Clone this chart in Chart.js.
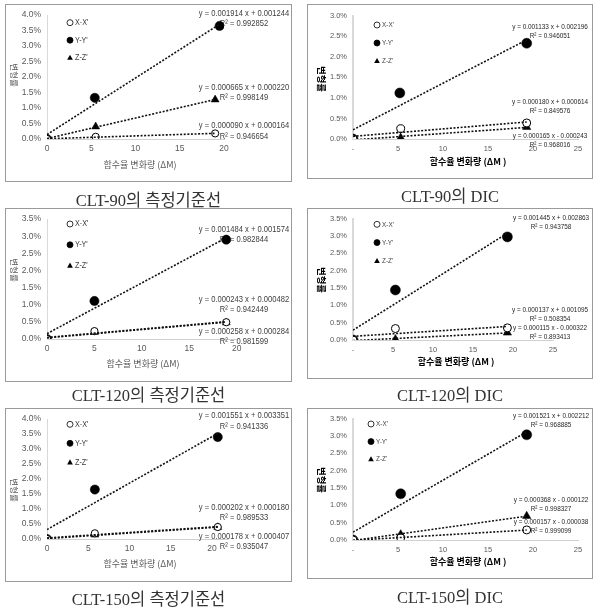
<!DOCTYPE html>
<html>
<head>
<meta charset="utf-8">
<script src="https://cdn.jsdelivr.net/npm/chart.js@4.4.1/dist/chart.umd.min.js"></script>
<style>
  body { margin: 0; background: #fff; width: 601px; height: 609px; position: relative; overflow: hidden; }
  canvas { position: absolute; }
  .moldura { position: absolute; box-sizing: border-box; border: 1px solid #9a9a9a; pointer-events: none; }
  .legenda { position: absolute; width: 300px; text-align: center; transform: translateY(-50%);
             font-family: "Liberation Serif", "Noto Sans CJK KR", serif; font-size: 16.5px; color: #333; white-space: nowrap; }
</style>
</head>
<body>
<script>
// ===== DADOS =====
const nomesSeries = ["X-X'", "Y-Y'", "Z-Z'"];
const xTicksMed = ["0", "5", "10", "15", "20"];
const xTicksDic = ["-", "5", "10", "15", "20", "25"];

// CLT-90의 측정기준선  (ordem: X-X', Y-Y', Z-Z')
const c90m_x = [[0, 5.5, 19.0], [0, 5.4, 19.5], [0, 5.5, 19.0]];
const c90m_y = [[0, 0.0007, 0.0018], [0, 0.0133, 0.0365], [0, 0.0040, 0.0127]];
const c90m_eq = ["y = 0.001914 x + 0.001244", "y = 0.000665 x + 0.000220", "y = 0.000090 x + 0.000164"];
const c90m_r2 = ["R² = 0.992852", "R² = 0.998149", "R² = 0.946654"];

// CLT-90의 DIC
const c90d_x = [[0, 5.3, 19.3], [0, 5.2, 19.3], [0, 5.3, 19.3]];
const c90d_y = [[0, 0.0025, 0.0039], [0, 0.0112, 0.0233], [0, 0.0003, 0.0029]];
const c90d_eq = ["y = 0.001133 x + 0.002196", "y = 0.000180 x + 0.000614", "y = 0.000165 x - 0.000243"];
const c90d_r2 = ["R² = 0.946051", "R² = 0.849576", "R² = 0.968016"];

// CLT-120의 측정기준선
const c120m_x = [[0, 5.0, 18.9], [0, 5.0, 18.9], [0, 5.0, 18.9]];
const c120m_y = [[0, 0.0023, 0.0049], [0, 0.0111, 0.0290], [0, 0.0020, 0.0048]];
const c120m_eq = ["y = 0.001484 x + 0.001574", "y = 0.000243 x + 0.000482", "y = 0.000258 x + 0.000284"];
const c120m_r2 = ["R² = 0.982844", "R² = 0.942449", "R² = 0.981599"];

// CLT-120의 DIC
const c120d_x = [[0, 5.3, 19.3], [0, 5.3, 19.3], [0, 5.3, 19.3]];
const c120d_y = [[0, 0.0033, 0.0035], [0, 0.0144, 0.0297], [0, 0.0002, 0.0021]];
const c120d_eq = ["y = 0.001445 x + 0.002863", "y = 0.000137 x + 0.001095", "y = 0.000115 x - 0.000322"];
const c120d_r2 = ["R² = 0.943758", "R² = 0.508354", "R² = 0.893413"];

// CLT-150의 측정기준선
const c150m_x = [[0, 5.8, 20.7], [0, 5.8, 20.7], [0, 5.8, 20.7]];
const c150m_y = [[0, 0.0019, 0.0040], [0, 0.0165, 0.0340], [0, 0.0014, 0.0039]];
const c150m_eq = ["y = 0.001551 x + 0.003351", "y = 0.000202 x + 0.000180", "y = 0.000178 x + 0.000407"];
const c150m_r2 = ["R² = 0.941336", "R² = 0.989533", "R² = 0.935047"];

// CLT-150의 DIC
const c150d_x = [[0, 5.3, 19.3], [0, 5.3, 19.3], [0, 5.3, 19.3]];
const c150d_y = [[0, 0.0006, 0.0029], [0, 0.0133, 0.0303], [0, 0.0016, 0.0069]];
const c150d_eq = ["y = 0.001521 x + 0.002212", "y = 0.000368 x - 0.000122", "y = 0.000157 x - 0.000038"];
const c150d_r2 = ["R² = 0.968885", "R² = 0.998327", "R² = 0.999099"];

// ===== LAYOUT (coordenadas da página) =====
const FONTE = "'Liberation Sans', Arial, sans-serif";
const FONTE_KR = "'Noto Sans CJK KR', sans-serif";
const ESTREITO = 0.8; // compressão horizontal para imitar a fonte estreita

const paineis = [
  { titulo: "CLT-90의 측정기준선", xs: c90m_x, ys: c90m_y, eq: c90m_eq, r2: c90m_r2, dic: false,
    xMax: 20, yMax: 0.04, xTicks: xTicksMed,
    box: [5, 4, 287, 178], area: [47, 15, 224, 139], cap: 199,
    leg: [70, 22.7, 17.5], xt: [140, 165], yt: [14, 75],
    an: [[244, 13.3], [244, 87.3], [244, 125.7]] },
  { titulo: "CLT-90의 DIC", xs: c90d_x, ys: c90d_y, eq: c90d_eq, r2: c90d_r2, dic: true,
    xMax: 25, yMax: 0.03, xTicks: xTicksDic,
    box: [307, 4, 286, 175], area: [353, 15.7, 578, 139], cap: 195,
    leg: [377, 25, 18], xt: [468, 162], yt: [322, 79],
    an: [[550, 26.7], [550, 101.7], [550, 136]] },
  { titulo: "CLT-120의 측정기준선", xs: c120m_x, ys: c120m_y, eq: c120m_eq, r2: c120m_r2, dic: false,
    xMax: 20, yMax: 0.035, xTicks: xTicksMed,
    box: [5, 208, 287, 174], area: [47, 215.7, 236.7, 339], cap: 394,
    leg: [70, 224, 20.8], xt: [143, 364], yt: [14, 270],
    an: [[244, 229.3], [244, 299.3], [244, 331.3]] },
  { titulo: "CLT-120의 DIC", xs: c120d_x, ys: c120d_y, eq: c120d_eq, r2: c120d_r2, dic: true,
    xMax: 25, yMax: 0.035, xTicks: xTicksDic,
    box: [307, 208, 286, 171], area: [353, 216.7, 553, 340], cap: 394,
    leg: [377, 224.3, 18.3], xt: [456, 362], yt: [322, 280],
    an: [[551, 217.7], [550, 309.3], [550, 327.7]] },
  { titulo: "CLT-150의 측정기준선", xs: c150m_x, ys: c150m_y, eq: c150m_eq, r2: c150m_r2, dic: false,
    xMax: 22, yMax: 0.04, xTicks: xTicksMed,
    box: [5, 408, 287, 174], area: [47, 415.7, 228.5, 539], cap: 598,
    leg: [70, 424.3, 19], xt: [140, 564], yt: [14, 490],
    an: [[244, 415.7], [244, 507.3], [244, 536]] },
  { titulo: "CLT-150의 DIC", xs: c150d_x, ys: c150d_y, eq: c150d_eq, r2: c150d_r2, dic: true,
    xMax: 25, yMax: 0.035, xTicks: xTicksDic,
    box: [307, 408, 286, 171], area: [353, 415.7, 578, 540], cap: 596,
    leg: [371, 424, 17.6], xt: [468, 562], yt: [322, 480],
    an: [[551, 415.7], [551, 499.3], [551, 521.7]] },
];

// ===== TENDÊNCIA (mínimos quadrados sobre os pontos) =====
function ajuste(xs, ys) {
  const n = xs.length;
  const mx = xs.reduce((a, b) => a + b, 0) / n;
  const my = ys.reduce((a, b) => a + b, 0) / n;
  let sxy = 0, sxx = 0;
  for (let i = 0; i < n; i++) {
    sxy += (xs[i] - mx) * (ys[i] - my);
    sxx += (xs[i] - mx) ** 2;
  }
  const m = sxy / sxx;
  return { m, b: my - m * mx };
}

// ===== MARCADORES DA LEGENDA =====
function marcador(ctx, tipo, x, y, r) {
  ctx.beginPath();
  if (tipo === 2) {
    ctx.moveTo(x, y - r);
    ctx.lineTo(x + r * 0.95, y + r * 0.7);
    ctx.lineTo(x - r * 0.95, y + r * 0.7);
    ctx.closePath();
    ctx.fillStyle = "#000";
    ctx.fill();
  } else {
    ctx.arc(x, y, r, 0, Math.PI * 2);
    ctx.fillStyle = tipo === 0 ? "#fff" : "#000";
    ctx.fill();
    ctx.lineWidth = 0.8;
    ctx.strokeStyle = "#000";
    ctx.stroke();
  }
}

function textoEstreito(ctx, txt, x, y) {
  ctx.save();
  ctx.translate(x, y);
  ctx.scale(ESTREITO, 1);
  ctx.fillText(txt, 0, 0);
  ctx.restore();
}

// ===== TEXTOS (equações, legenda, títulos) =====
function pluginTextos(p) {
  return {
    id: "textos",
    beforeDatasetsDraw(chart) {
      const ctx = chart.ctx;
      ctx.save();
      ctx.translate(-p.box[0], -p.box[1]);
      ctx.textBaseline = "middle";
      ctx.textAlign = "center";

      // equações das linhas de tendência
      ctx.fillStyle = p.dic ? "#262626" : "#404040";
      ctx.font = (p.dic ? "8px " : "9.5px ") + FONTE;
      const gap = p.dic ? 9 : 10.5;
      p.an.forEach(([x, y], i) => {
        textoEstreito(ctx, p.eq[i], x, y);
        textoEstreito(ctx, p.r2[i], x, y + gap);
      });

      // legenda
      const [lx, ly, dy] = p.leg;
      ctx.textAlign = "left";
      ctx.font = (p.dic ? "8px " : "9px ") + FONTE;
      nomesSeries.forEach((nome, i) => {
        marcador(ctx, i, lx, ly + i * dy, 3);
        ctx.fillStyle = "#404040";
        textoEstreito(ctx, nome, lx + 5, ly + i * dy);
      });

      // título do eixo x
      ctx.textAlign = "center";
      ctx.fillStyle = p.dic ? "#000" : "#595959";
      ctx.font = (p.dic ? "bold 9px " : "9px ") + FONTE_KR;
      ctx.fillText(p.dic ? "함수율 변화량 (ΔM )" : "함수율 변화량 (ΔM)", p.xt[0], p.xt[1]);

      // título do eixo y (girado)
      ctx.save();
      ctx.translate(p.yt[0], p.yt[1]);
      ctx.rotate(Math.PI / 2);
      ctx.font = (p.dic ? "bold 9.5px " : "8.5px ") + FONTE_KR;
      ctx.fillText("변형률", 0, 0);
      ctx.restore();

      ctx.restore();
    }
  };
}

// ===== GRÁFICOS =====
function criarPainel(p) {
  const [bx, by, bw, bh] = p.box;
  const [al, at, ar, ab] = p.area;

  const cv = document.createElement("canvas");
  cv.width = bw; cv.height = bh;
  cv.style.left = bx + "px"; cv.style.top = by + "px";
  cv.style.width = bw + "px"; cv.style.height = bh + "px";
  document.body.appendChild(cv);

  const moldura = document.createElement("div");
  moldura.className = "moldura";
  Object.assign(moldura.style, { left: bx + "px", top: by + "px", width: bw + "px", height: bh + "px" });
  document.body.appendChild(moldura);

  const leg = document.createElement("div");
  leg.className = "legenda";
  leg.style.left = (bx + bw / 2 - 150) + "px";
  leg.style.top = p.cap + "px";
  leg.textContent = p.titulo;
  document.body.appendChild(leg);

  const estilos = ["circle", "circle", "triangle"];
  const fundos = ["#fff", "#000", "#000"];
  const raios = p.dic ? [4, 5, 4.8] : [3.6, 4.6, 4.6];

  const tendencias = p.xs.map((xs, i) => {
    const { m, b } = ajuste(xs, p.ys[i]);
    const x0 = Math.min(...xs), x1 = Math.max(...xs);
    return {
      data: [{ x: x0, y: m * x0 + b }, { x: x1, y: m * x1 + b }],
      showLine: true,
      borderColor: "#111",
      borderWidth: 1.6,
      borderDash: [2, 1.6],
      pointRadius: 0,
    };
  });

  const pontos = p.xs.map((xs, i) => ({
    label: nomesSeries[i],
    data: xs.map((x, k) => ({ x, y: p.ys[i][k] })),
    pointStyle: estilos[i],
    pointRadius: raios[i],
    pointBackgroundColor: fundos[i],
    pointBorderColor: "#000",
    pointBorderWidth: i === 0 ? 1 : 0.5,
    showLine: false,
  }));

  const tickFont = { family: FONTE, size: p.dic ? 7.5 : 8.5 };

  new Chart(cv.getContext("2d"), {
    type: "scatter",
    data: { datasets: [...tendencias, ...pontos] },
    options: {
      responsive: false,
      animation: false,
      devicePixelRatio: 1,
      layout: { padding: { left: 0, top: at - by, right: bw - (ar - bx), bottom: 0 } },
      plugins: { legend: { display: false }, tooltip: { enabled: false } },
      scales: {
        x: {
          type: "linear", min: 0, max: p.xMax,
          grid: { display: false, drawTicks: false, tickLength: 0 },
          border: { display: true, color: "#d0d0d0", width: 1 },
          ticks: {
            stepSize: 5, includeBounds: false, autoSkip: false, maxRotation: 0, padding: 5,
            color: "#595959", font: tickFont,
            callback: (v) => (v % 5 === 0 ? p.xTicks[v / 5] : ""),
          },
          afterFit: (s) => { s.height = bh - (ab - by); },
        },
        y: {
          type: "linear", min: 0, max: p.yMax,
          grid: { display: false, drawTicks: false, tickLength: 0 },
          border: { display: true, color: "#d9d9d9", width: p.dic ? 2 : 1 },
          ticks: {
            stepSize: 0.005, autoSkip: false, padding: 6,
            color: "#595959", font: tickFont,
            callback: (v) => (v * 100).toFixed(1) + "%",
          },
          afterFit: (s) => { s.width = al - bx; },
        },
      },
    },
    plugins: [pluginTextos(p)],
  });
}

paineis.forEach(criarPainel);
</script>
</body>
</html>
